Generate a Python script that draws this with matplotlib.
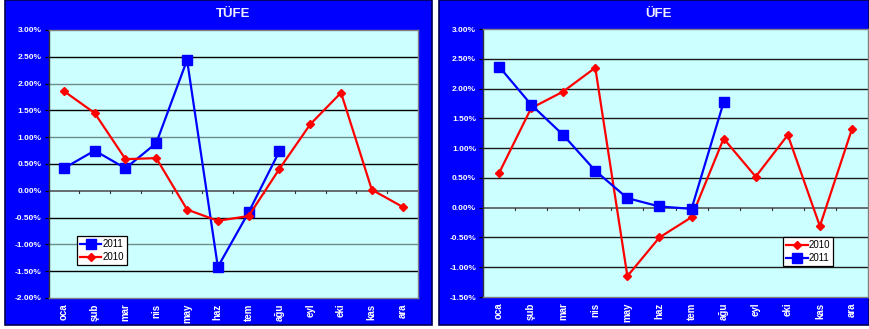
import matplotlib.pyplot as plt
from matplotlib.patches import Rectangle

plt.rcParams['font.family'] = ['Liberation Sans', 'DejaVu Sans']

months = ['oca', 'şub', 'mar', 'nis', 'may', 'haz', 'tem', 'ağu', 'eyl', 'eki', 'kas', 'ara']

# TÜFE monthly change (%)
tufe_2011 = [0.42, 0.75, 0.42, 0.89, 2.44, -1.42, -0.40, 0.74]
tufe_2010 = [1.86, 1.45, 0.59, 0.61, -0.35, -0.56, -0.47, 0.41, 1.24, 1.83, 0.02, -0.30]

# ÜFE monthly change (%)
ufe_2011 = [2.37, 1.73, 1.22, 0.62, 0.16, 0.02, -0.02, 1.77]
ufe_2010 = [0.58, 1.67, 1.95, 2.35, -1.15, -0.50, -0.16, 1.16, 0.52, 1.22, -0.31, 1.32]

tufe_ticks = [3.0, 2.5, 2.0, 1.5, 1.0, 0.5, 0.0, -0.5, -1.0, -1.5, -2.0]
ufe_ticks = [3.0, 2.5, 2.0, 1.5, 1.0, 0.5, 0.0, -0.5, -1.0, -1.5]

W, H = 869, 329
fig = plt.figure(figsize=(W / 100, H / 100), dpi=100)
fig.patch.set_facecolor('white')

PANEL = '#0000FF'
PLOTBG = '#CCFFFF'


def px(x0, y0, x1, y1):
    # pixel box (top-left origin) -> figure fraction [l, b, w, h]
    return [x0 / W, 1 - y1 / H, (x1 - x0) / W, (y1 - y0) / H]


def panel(box, title, tx):
    l, b, w, h = px(*box)
    fig.patches.append(Rectangle((l, b), w, h, transform=fig.transFigure,
                                 facecolor=PANEL, edgecolor='#000050', lw=1.2, zorder=-5))
    fig.text(tx / W, 1 - 14 / H, title, color='#EEEEFF', fontsize=9.5,
             fontweight='bold', ha='center', va='center')


def chart(box, ticks, series, legend_pos, alt_grid=True):
    ax = fig.add_axes(px(*box))
    ax.set_facecolor(PLOTBG)
    x = list(range(len(months)))
    for vals, color, marker, ms, lab in series:
        ax.plot(x[:len(vals)], vals, color=color, lw=1.6, marker=marker,
                markersize=ms, label=lab, zorder=3)
    ax.set_xlim(-0.5, 11.5)
    ax.set_ylim(min(ticks), max(ticks))
    ax.set_yticks(ticks)
    ax.set_yticklabels(['%.2f%%' % t for t in ticks], color='white',
                       fontsize=6, fontweight='bold')
    for t in ticks[1:-1]:
        if t == 0:
            continue
        if alt_grid:
            c = '#000000' if abs(t * 2) % 2 == 1 else '#6E8C8C'
        else:
            c = '#1A1A1A'
        ax.axhline(t, color=c, lw=1.0, zorder=1)
    ax.axhline(0, color='#555555', lw=1.2, zorder=2)
    # category boundary tick marks on the zero line
    for b in range(1, 12):
        ax.plot([b - 0.5, b - 0.5], [0, -0.04 * (max(ticks) - min(ticks)) / 5],
                color='#333333', lw=0.8, zorder=2)
    ax.set_xticks(x)
    ax.set_xticklabels(months, rotation=90, color='white', fontsize=7,
                       fontweight='bold')
    ax.tick_params(axis='x', length=0, pad=4)
    ax.tick_params(axis='y', length=3, width=0.8, color='black', pad=2)
    for s in ax.spines.values():
        s.set_color('#808080')
        s.set_linewidth(1)
    ax.spines['left'].set_color('#333333')
    leg = ax.legend(loc='lower left', bbox_to_anchor=legend_pos, borderaxespad=0,
                    fontsize=7, fancybox=False, framealpha=1, edgecolor='black',
                    handlelength=2.2, handletextpad=0.1, borderpad=0.3,
                    labelspacing=0.3)
    leg.get_frame().set_linewidth(0.9)
    return ax


panel((5, 0, 432, 325), 'TÜFE', 233)
panel((439, 0, 869, 325), 'ÜFE', 659)

chart((48.5, 30, 418, 298), tufe_ticks,
      [(tufe_2011, '#0000FF', 's', 6.5, '2011'),
       (tufe_2010, '#FF0000', 'D', 4.3, '2010')],
      (0.077, 0.123))

chart((483, 29, 868, 297), ufe_ticks,
      [(ufe_2010, '#FF0000', 'D', 4.3, '2010'),
       (ufe_2011, '#0000FF', 's', 6.5, '2011')],
      (0.78, 0.116), alt_grid=False)

fig.savefig('out.png', dpi=100, facecolor=fig.get_facecolor())
